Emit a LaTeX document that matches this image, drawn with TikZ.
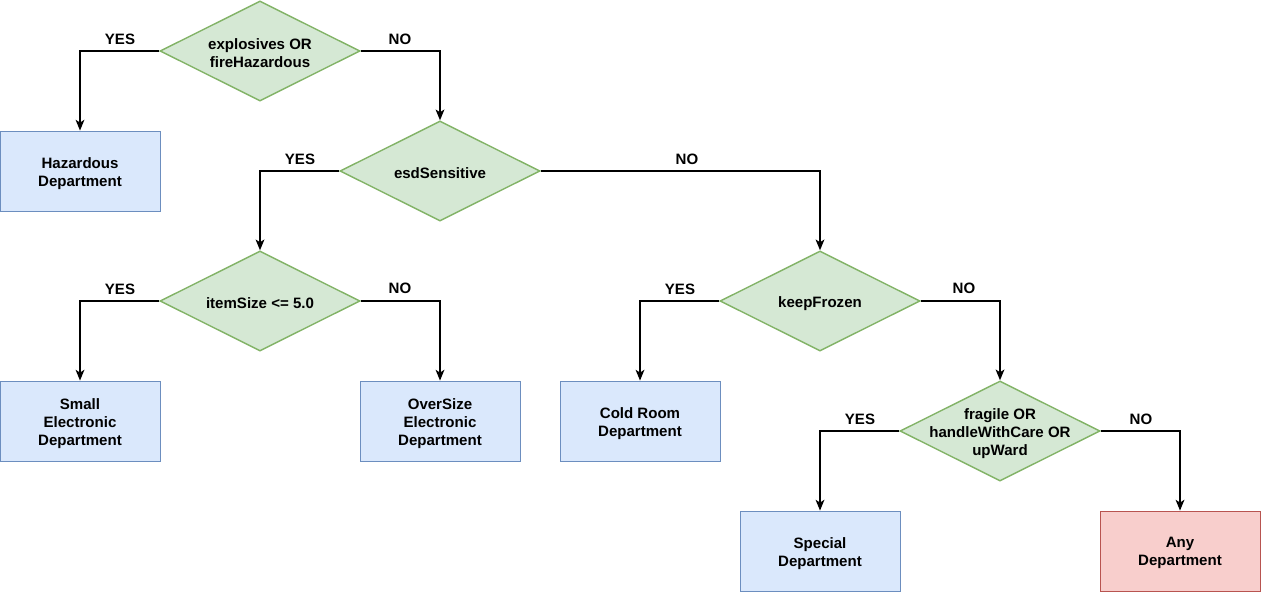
\documentclass[tikz,border=0pt]{standalone}
\usepackage{fontspec}
\setmainfont{Liberation Sans}
\usetikzlibrary{shapes.geometric,arrows.meta}

\definecolor{decfill}{HTML}{D5E8D4}
\definecolor{decline}{HTML}{82B366}
\definecolor{depfill}{HTML}{DAE8FC}
\definecolor{depline}{HTML}{6C8EBF}
\definecolor{anyfill}{HTML}{F8CECC}
\definecolor{anyline}{HTML}{B85450}

\begin{document}
\begin{tikzpicture}[x=0.025cm, y=-0.025cm,
        every node/.style={font=\fontsize{10.7}{12.8}\selectfont\bfseries, align=center},
        every label/.style={yshift=-0.055cm},
        decision/.style={diamond, draw=decline, fill=decfill, line width=1pt, inner sep=0pt,
            minimum width=5cm, minimum height=2.5cm},
        dept/.style={rectangle, draw=depline, fill=depfill, line width=0.6pt,
            minimum width=4cm, minimum height=2cm},
        anydept/.style={dept, draw=anyline, fill=anyfill},
        flow/.style={draw, line width=1pt, -{Stealth[length=0.27cm, width=0.22cm, inset=0.07cm]}}
    ]
        \useasboundingbox (0,0) rectangle (1261,592);

        % decisions
        \node [decision, label={center:explosives OR\\fireHazardous}] (explosive) at (260, 51) {};
        \node [decision, label={center:esdSensitive}] (esd) at (440, 171) {};
        \node [decision, label={center:itemSize <= 5.0}] (size) at (260, 301) {};
        \node [decision, label={center:keepFrozen}] (frozen) at (820, 301) {};
        \node [decision, label={center:fragile OR\\handleWithCare OR\\upWard}] (fragile) at (1000, 431) {};

        % departments
        \node [dept, label={center:Hazardous\\Department}] (hazardous) at (80, 171) {};
        \node [dept, label={center:Small\\Electronic\\Department}] (small) at (80, 421) {};
        \node [dept, label={center:OverSize\\Electronic\\Department}] (oversize) at (440, 421) {};
        \node [dept, label={center:Cold Room\\Department}] (cold) at (640, 421) {};
        \node [dept, label={center:Special\\Department}] (special) at (820, 551) {};
        \node [anydept, label={center:Any\\Department}] (any) at (1180, 551) {};

        % connectors
        \foreach \from/\to/\side in {explosive/hazardous/west, explosive/esd/east,
            esd/size/west, esd/frozen/east, size/small/west, size/oversize/east,
            frozen/cold/west, frozen/fragile/east, fragile/special/west, fragile/any/east}
        {
            \draw [flow] (\from.\side) -| (\to.north);
        }

        % labels
        \node (y1) at (120, 39) {YES};
        \node (n1) at (400, 39) {NO};
        \node (y2) at (300, 159) {YES};
        \node (n2) at (687, 159) {NO};
        \node (y3) at (120, 289) {YES};
        \node (n3) at (400, 288) {NO};
        \node (y4) at (680, 289) {YES};
        \node (n4) at (964, 288) {NO};
        \node (y5) at (860, 419) {YES};
        \node (n5) at (1141, 419) {NO};
    \end{tikzpicture}
\end{document}
